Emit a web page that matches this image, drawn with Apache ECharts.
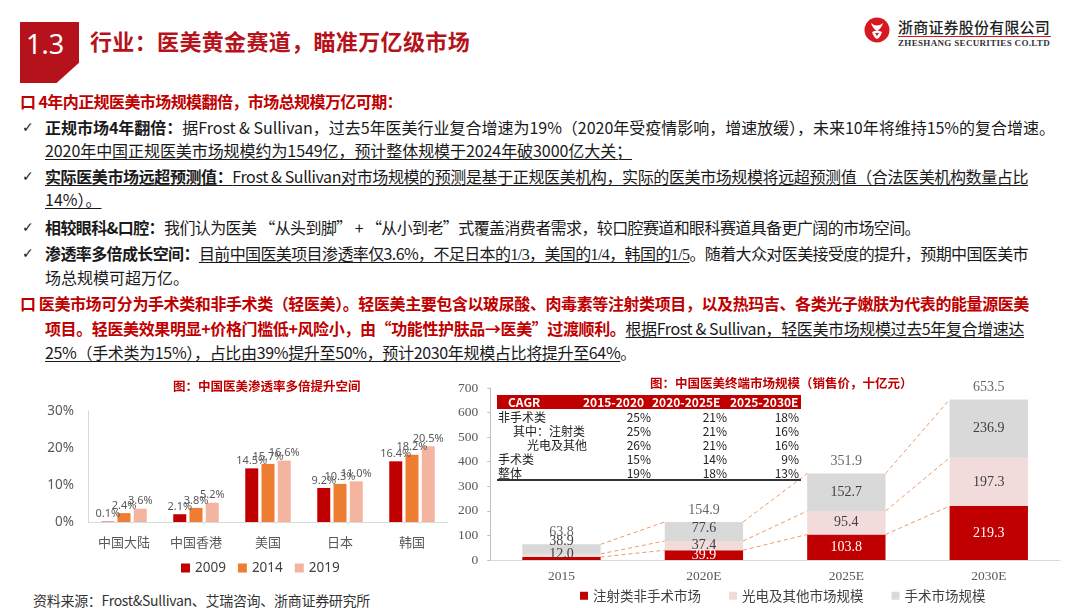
<!DOCTYPE html>
<html><head><meta charset="utf-8">
<script src="https://cdn.jsdelivr.net/npm/echarts/dist/echarts.min.js"></script>
<style>
body{margin:0;width:1080px;height:608px;position:relative;overflow:hidden;background:#fff;font-family:"Noto Sans CJK SC","Noto Sans",sans-serif;}
.ln{position:absolute;white-space:nowrap;font-size:16px;line-height:20px;color:#1a1a1a;}
.ck{position:absolute;left:22px;font-size:14px;line-height:20px;color:#222;font-family:"DejaVu Sans",sans-serif;}
.u{text-decoration:underline;text-underline-offset:2px;text-decoration-thickness:1px;}
.b{font-weight:bold;}
.r{color:#C00000;font-weight:bold;}
.tnum{font-family:"Liberation Serif",serif;}
#c1{position:absolute;left:0;top:370px;width:460px;height:212px;}
#c2{position:absolute;left:455px;top:370px;width:625px;height:236px;}
#tbl{position:absolute;left:497px;top:395px;width:304px;height:88px;z-index:5;font-size:12px;color:#222;}
#tbl div{position:absolute;white-space:nowrap;line-height:14px;}
</style></head>
<body>
<!-- header -->
<div style="position:absolute;left:20px;top:22px;width:59px;height:61px;background:#B5121B;clip-path:polygon(0 0,100% 0,100% 67%,62% 100%,0 100%);"></div>
<div style="position:absolute;left:26px;top:27px;font-size:27px;line-height:34px;color:#fff;font-family:'Noto Sans',sans-serif;">1.3</div>
<div class="fit" data-w="380" style="position:absolute;left:90px;top:26px;font-size:22px;line-height:28px;font-weight:bold;color:#B5121B;white-space:nowrap;">行业：医美黄金赛道，瞄准万亿级市场</div>
<svg style="position:absolute;left:863px;top:16px" width="28" height="28" viewBox="0 0 28 28">
<circle cx="14" cy="14" r="12.5" fill="#D7191F"/>
<path d="M8 7 Q14 12 20 7 Q18 13 14 15 Q10 13 8 7Z" fill="#fff"/>
<path d="M9 16 Q14 13 19 16 Q17 22 14 23 Q11 22 9 16Z" fill="#fff"/>
<path d="M12 17 L14 20 L16 17Z" fill="#D7191F"/>
</svg>
<div class="fit" data-w="152" style="position:absolute;left:898px;top:18px;font-size:15px;line-height:18px;color:#222;white-space:nowrap;font-weight:500;">浙商证券股份有限公司</div>
<div style="position:absolute;left:898px;top:36px;width:153px;height:1px;background:#D7191F;"></div>
<div class="fit" data-w="152" style="position:absolute;left:898px;top:38px;font-size:9px;line-height:11px;color:#333;white-space:nowrap;font-weight:bold;font-family:'Liberation Serif',serif;">ZHESHANG SECURITIES CO.LTD</div>

<!-- text -->
<div class="ln r fit" data-w="382" style="left:20px;top:91px;">口 4年内正规医美市场规模翻倍，市场总规模万亿可期：</div>
<div class="ck" style="top:117px">✓</div>
<div class="ln fit" data-w="1010" style="left:45px;top:117px;"><span class="b">正规市场4年翻倍：</span>据Frost &amp; Sullivan，过去5年医美行业复合增速为19%（2020年受疫情影响，增速放缓），未来10年将维持15%的复合增速。</div>
<div class="ln fit" data-w="587" style="left:45px;top:140px;"><span class="u">2020年中国正规医美市场规模约为1549亿，预计整体规模于2024年破3000亿大关；</span></div>
<div class="ck" style="top:166px">✓</div>
<div class="ln fit" data-w="983" style="left:45px;top:166px;"><span class="u"><span class="b">实际医美市场远超预测值：</span>Frost &amp; Sullivan对市场规模的预测是基于正规医美机构，实际的医美市场规模将远超预测值（合法医美机构数量占比</span></div>
<div class="ln" style="left:45px;top:189px;"><span class="u">14%）。</span></div>
<div class="ck" style="top:217px">✓</div>
<div class="ln fit" data-w="875" style="left:45px;top:217px;"><span class="b">相较眼科&amp;口腔：</span>我们认为医美 “从头到脚” + “从小到老”式覆盖消费者需求，较口腔赛道和眼科赛道具备更广阔的市场空间。</div>
<div class="ck" style="top:243px">✓</div>
<div class="ln fit" data-w="983" style="left:45px;top:243px;"><span class="b">渗透率多倍成长空间：</span><span class="u">目前中国医美项目渗透率仅3.6%，不足日本的<span class="tnum">1/3</span>，美国的<span class="tnum">1/4</span>，韩国的<span class="tnum">1/5</span></span>。随着大众对医美接受度的提升，预期中国医美市</div>
<div class="ln" style="left:45px;top:267px;">场总规模可超万亿。</div>
<div class="ln r fit" data-w="1009" style="left:20px;top:293px;">口 医美市场可分为手术类和非手术类（轻医美）。轻医美主要包含以玻尿酸、肉毒素等注射类项目，以及热玛吉、各类光子嫩肤为代表的能量源医美</div>
<div class="ln fit" data-w="979" style="left:45px;top:318px;"><span class="r">项目。轻医美效果明显+价格门槛低+风险小，由“功能性护肤品→医美”过渡顺利。</span><span class="u">根据Frost &amp; Sullivan，轻医美市场规模过去5年复合增速达</span></div>
<div class="ln fit" data-w="591" style="left:45px;top:342px;"><span class="u">25%（手术类为15%），占比由39%提升至50%，预计2030年规模占比将提升至64%</span>。</div>

<div class="fit" data-w="337" style="position:absolute;left:33px;top:591px;font-size:14px;line-height:18px;color:#333;white-space:nowrap;">资料来源：Frost&amp;Sullivan、艾瑞咨询、浙商证券研究所</div>

<div id="c1"></div>
<div id="c2"></div>
<div id="tbl"></div>

<script>
// ---------- data: penetration chart ----------
const penCats = ['中国大陆','中国香港','美国','日本','韩国'];
const penYears = ['2009','2014','2019'];
const pen2009 = [0.1, 2.1, 14.5, 9.2, 16.4];
const pen2014 = [2.4, 3.8, 15.7, 10.3, 18.2];
const pen2019 = [3.6, 5.2, 16.6, 11.0, 20.5];
const penTicks = [0, 10, 20, 30];

// ---------- data: market size chart ----------
const mktCats = ['2015','2020E','2025E','2030E'];
const mktNames = ['注射类非手术市场','光电及其他市场规模','手术市场规模'];
const mktInject = [12.0, 39.9, 103.8, 219.3];
const mktPhoto = [12.9, 37.4, 95.4, 197.3];
const mktSurg = [38.9, 77.6, 152.7, 236.9];
const mktTotal = [63.8, 154.9, 351.9, 653.5];

// ---------- data: CAGR table ----------
const cagrHead = ['CAGR','2015-2020','2020-2025E','2025-2030E'];
const cagrLabels = ['非手术类','其中：注射类','光电及其他','手术类','整体'];
const cagr1520 = ['25%','25%','26%','15%','19%'];
const cagr2025 = ['21%','21%','21%','14%','18%'];
const cagr2530 = ['18%','16%','16%','9%','13%'];

// fit text widths
document.querySelectorAll('.fit').forEach(el=>{
  const target = +el.dataset.w;
  el.style.display='inline-block';
  const w = el.getBoundingClientRect().width;
  const n = el.textContent.length;
  if(n>1) el.style.letterSpacing = ((target - w)/n).toFixed(3)+'px';
});

// table
(function(){
  const t = document.getElementById('tbl');
  let h = '<div style="left:0;top:0;width:304px;height:14px;background:#C00000;"></div>';
  const hx = [11, 86, 155, 233];
  cagrHead.forEach((s,i)=>{ h += `<div style="left:${hx[i]}px;top:0;color:#fff;font-weight:bold;">${s}</div>`; });
  const ind = [1, 16, 30, 1, 1];
  const rights = [154, 230, 302];
  cagrLabels.forEach((lab,r)=>{
    const top = 15 + r*14;
    h += `<div style="left:${ind[r]}px;top:${top}px;">${lab}</div>`;
    [cagr1520[r], cagr2025[r], cagr2530[r]].forEach((v,c)=>{
      h += `<div style="right:${304-rights[c]}px;top:${top}px;">${v}</div>`;
    });
  });
  h += '<div style="left:0;top:84px;width:304px;height:1.5px;background:#333;"></div>';
  t.innerHTML = h;
})();

// ---------- chart 1 ----------
const c1 = echarts.init(document.getElementById('c1'));
const penColors = ['#C00000','#ED7D31','#F4B5A0'];
const penData = [pen2009, pen2014, pen2019];
c1.setOption({
  animation:false,
  textStyle:{fontFamily:'"Noto Sans CJK SC","Noto Sans",sans-serif'},
  title:{text:'图：中国医美渗透率多倍提升空间', left:168, top:5,
    textStyle:{fontSize:12.5, fontWeight:'bold', color:'#C00000'}},
  legend:{data:penYears, left:176, top:186, itemWidth:9, itemHeight:9, itemGap:12,
    icon:'rect', textStyle:{fontSize:13.5, color:'#404040', fontFamily:'"Noto Sans",sans-serif'}},
  grid:{left:88, right:12, top:41, bottom:60},
  xAxis:{type:'category', data:penCats,
    axisLine:{lineStyle:{color:'#D9D9D9'}}, axisTick:{show:false},
    axisLabel:{fontSize:13, color:'#595959', margin:14}},
  yAxis:{type:'value', min:penTicks[0], max:penTicks[penTicks.length-1], interval:10,
    axisLine:{show:true, lineStyle:{color:'#D9D9D9'}}, axisTick:{show:false}, splitLine:{show:false},
    axisLabel:{formatter:'{value}%', fontSize:13.5, color:'#595959', margin:14, fontFamily:'"Noto Sans",sans-serif'}},
  series: penYears.map((y,i)=>({
    name:y, type:'bar', data:penData[i], barWidth:13, barGap:'25%',
    itemStyle:{color:penColors[i]},
    label:{show:true, position:'top', distance:2, formatter:p=>p.value.toFixed(1)+'%',
      fontSize:11, color:'#595959', fontFamily:'"Noto Sans",sans-serif'}
  }))
});

// ---------- chart 2 ----------
const c2 = echarts.init(document.getElementById('c2'));
const cumA = mktInject.slice();
const cumB = mktInject.map((v,i)=>v+mktPhoto[i]);
const cumC = mktTotal.slice();
const BW = 0.55;
const serif = '"Liberation Serif","Times New Roman",serif';
function segLabel(color){ return {show:true, position:'inside', fontSize:14, color:color, fontFamily:serif, formatter:p=>(+p.value).toFixed(1)}; }
c2.setOption({
  animation:false,
  textStyle:{fontFamily:'"Noto Sans CJK SC","Noto Sans",sans-serif'},
  title:{text:'图：中国医美终端市场规模（销售价，十亿元）', left:190, top:2,
    textStyle:{fontSize:12.5, fontWeight:'bold', color:'#C00000'}},
  legend:{data:mktNames, left:120, top:214, itemWidth:8, itemHeight:8, itemGap:28, icon:'rect',
    textStyle:{fontSize:13.5, color:'#404040'}},
  grid:{left:35, right:20, top:18, bottom:46},
  xAxis:{type:'category', data:mktCats,
    axisLine:{lineStyle:{color:'#D9D9D9'}}, axisTick:{show:false},
    axisLabel:{fontSize:13.5, color:'#595959', margin:9, fontFamily:serif}},
  yAxis:{type:'value', min:0, max:700, interval:100,
    axisLine:{show:true, lineStyle:{color:'#BFBFBF'}}, axisTick:{show:true, length:3, lineStyle:{color:'#BFBFBF'}},
    splitLine:{show:false},
    axisLabel:{fontSize:13.5, color:'#595959', margin:12, fontFamily:serif}},
  series:[
    {name:mktNames[0], type:'bar', stack:'m', barWidth:(BW*100)+'%', itemStyle:{color:'#C00000'},
     label:segLabel('#fff'),
     data:mktInject.map((v,i)=> i===0 ? {value:v, label:{color:'#404040', offset:[0,-4]}} : v)},
    {name:mktNames[1], type:'bar', stack:'m', itemStyle:{color:'#F2DCDB'},
     label:segLabel('#404040'),
     data:mktPhoto.map((v,i)=> i===0 ? {value:v, label:{show:false}} : v)},
    {name:mktNames[2], type:'bar', stack:'m', itemStyle:{color:'#D9D9D9'},
     label:segLabel('#404040'),
     data:mktSurg.map((v,i)=> i===0 ? {value:v, label:{position:'top', distance:-4}} : (i===1? {value:v, label:{offset:[0,-3]}}: v))},
    {name:'合计', type:'scatter', symbolSize:0, data:mktTotal, silent:true,
     label:{show:true, position:'top', distance:5, fontSize:14, color:'#404040', fontFamily:serif, formatter:p=>p.value.toFixed(1)}},
    {name:'连线', type:'custom', silent:true, z:1,
     data:[[0,0],[1,0],[2,0]], encode:{x:0, y:1},
     renderItem:function(params, api){
       const i = api.value(0);
       const half = api.size([1,0])[0]*BW/2;
       return {type:'group', children:[cumA,cumB,cumC].map(arr=>{
         const p1 = api.coord([i, arr[i]]), p2 = api.coord([i+1, arr[i+1]]);
         return {type:'line', shape:{x1:p1[0]+half, y1:p1[1], x2:p2[0]-half, y2:p2[1]},
           style:{stroke:'#EE9A62', lineWidth:1, lineDash:[4,3]}};
       })};
     }}
  ]
});
</script>
</body></html>
